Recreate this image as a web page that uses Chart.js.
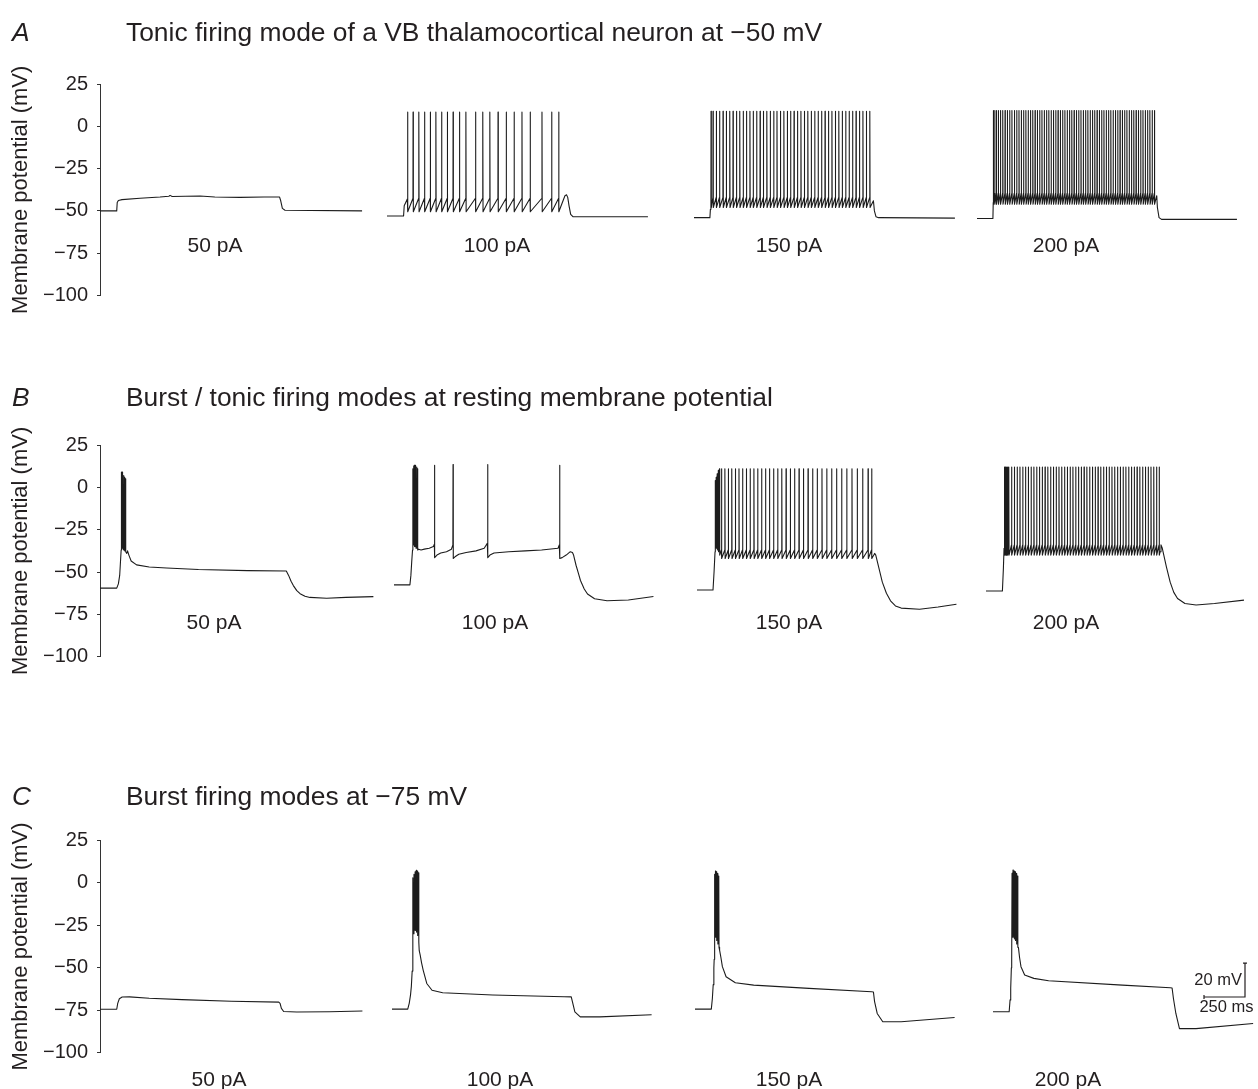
<!DOCTYPE html>
<html><head><meta charset="utf-8">
<script src="https://cdn.jsdelivr.net/npm/chart.js@4.4.1/dist/chart.umd.min.js"></script>
<style>
html,body{margin:0;padding:0;background:#fff;width:1258px;height:1089px;overflow:hidden;font-family:"Liberation Sans",Arial,sans-serif;color:#231f20}
#stage{position:absolute;left:0;top:0;width:1258px;height:1089px}
#stage canvas{position:absolute;left:0}
.lbl{position:absolute;font-size:21px;transform:translate(-50%,-50%);white-space:nowrap;line-height:1}
.ttl{position:absolute;font-size:26.4px;line-height:1;white-space:nowrap;transform:translateY(-50%)}
.let{font-style:italic}
</style></head><body>
<div id="stage"></div>
<script>
// ---------------- data (time in ms from trace start, membrane potential in mV) ----------------
const currents = ['50 pA', '100 pA', '150 pA', '200 pA'];
const panelLetters = ['A', 'B', 'C'];
const panelTitles = [
  'Tonic firing mode of a VB thalamocortical neuron at \u221250 mV',
  'Burst / tonic firing modes at resting membrane potential',
  'Burst firing modes at \u221275 mV'
];
const yTicks = [25, 0, -25, -50, -75, -100];
const yTitle = 'Membrane potential (mV)';
const scaleBarMV = 20, scaleBarMS = 250;

// Panel A
const A1_wave = [[0,-50],[102,-50],[105,-45],[112,-43.8],[134,-43.3],[244,-42.5],[366,-41.8],[420,-41.3],[427,-40.8],[440,-41.5],[520,-41.3],[610,-41.2],[700,-41.8],[854,-42],[1000,-41.8],[1095,-41.8],[1102,-44],[1112,-48.5],[1128,-49.6],[1598,-50]];
const A2_pre = [[0,-53],[101,-53],[105,-47],[124,-43]];
const A2_spikes = [126,159,194,229,264,298,333,368,403,442,481,540,584,627,677,727,775,823,873,945,1004,1047];
const A2_levels = [8.5,-50.5,-42.5];
const A2_post = [[1085,-41],[1095,-40.5],[1102,-42],[1110,-47],[1120,-52],[1135,-53.5],[1591,-53.5]];
const A3_pre = [[0,-54],[97,-54],[100,-49],[103,-44]];
const A3_spikes = [104,116,136,156,177,197,218,238,259,279,300,320,341,361,382,403,423,444,465,486,506,527,548,569,589,610,631,652,673,694,715,736,757,778,799,820,841,862,883,904,925,946,967,988,1009,1030,1051,1072];
const A3_levels = [9,-48,-42];
const A3_post = [[1094,-44],[1100,-50],[1110,-53.5],[1125,-54],[1591,-54.3]];
const A4_pre = [[0,-54.5],[97,-54.5],[99,-45]];
const A4_spikes = [100,108,118,130,143,157,171,185,199,213,228,242,256,270,284,298,312,326,340,354,368,382,396,410,424,438,452,466,480,494,508,522,536,550,564,578,592,606,620,634,648,662,676,690,704,718,732,746,760,774,788,802,816,830,844,858,872,886,900,914,928,942,956,970,984,998,1012,1026,1040,1054,1068,1082];
const A4_levels = [9.5,-46,-39.5];
const A4_post = [[1096,-41],[1100,-48],[1110,-54],[1125,-55],[1585,-55]];

// Panel B
const B1_wave = [[0,-59.5],[102,-59.5],[112,-57],[120,-52],[126,-42],[129,-37],[130,9],[131.5,-36],[134.5,9],[136,-36],[139,8],[140.5,-36.5],[144,7],[145.5,-37],[149,6],[150.5,-37.5],[154,5],[155.5,-38],[158,-38],[163,-39],[168,-37.5],[176,-40],[190,-43.5],[223,-45.8],[300,-47],[406,-47.6],[600,-48.5],[900,-49.2],[1136,-49.4],[1150,-52],[1165,-55.5],[1179,-58],[1200,-61],[1220,-62.8],[1250,-64.3],[1280,-65],[1382,-65.5],[1500,-65],[1667,-64.5]];
const B2_wave = [[0,-57.6],[97,-57.6],[103,-52],[108,-44],[113,-37],[115,11],[116.5,-34],[119.5,12.5],[121,-34],[124,13],[125.5,-35],[128.5,13],[130,-35],[133,12.5],[134.5,-36],[138,12],[139.5,-36],[143,11],[144.5,-37],[150,-36.5],[165,-37],[185,-36.5],[215,-36],[240,-35],[246,-33.5],[247,13],[248.5,-41.5],[262,-40],[285,-38.8],[320,-38],[350,-36.5],[359,-34],[360,13.5],[361.5,-42],[372,-41],[395,-39.5],[440,-38.5],[500,-37.5],[550,-36],[569,-33],[571,13.5],[572.5,-41.5],[585,-40],[610,-38.8],[700,-38],[800,-37.5],[900,-37],[1000,-36],[1008,-34],[1010,13],[1011.5,-42],[1025,-41.5],[1050,-40],[1075,-38],[1088,-38.5],[1095,-40],[1110,-46],[1125,-51],[1137,-55],[1160,-60],[1180,-63],[1223,-65.8],[1299,-67],[1429,-66.5],[1582,-64.5]];
const B3_pre = [[0,-60.6],[97.6,-60.6],[104,-50],[110,-38],[111,4],[112.5,-36],[117,6],[118.5,-36],[123,8],[124.5,-37],[130,10],[131.5,-38],[137,11],[138.5,-40],[149,-37]];
const B3_spikes = [150,170,191,212,234,256,278,301,324,347,370,394,418,442,467,492,517,543,569,595,622,649,677,705,733,762,791,821,851,882,913,945,977,1010,1043,1065];
const B3_levels = [11,-42,-37];
const B3_post = [[1078,-40],[1083,-39],[1090,-40],[1110,-48],[1130,-56],[1155,-62.5],[1180,-67],[1210,-70],[1245,-71.3],[1357,-72],[1470,-70.7],[1582,-69]];
const B4_pre = [[0,-61.2],[100,-61.2],[106,-48],[110,-36]];
const B4_spikes = [112,116,121,126,132,139,156,173,190,207,224,241,258,275,292,309,326,343,360,377,394,411,428,445,462,479,496,513,530,547,564,581,598,615,632,649,666,683,700,717,734,751,768,785,802,819,836,853,870,887,904,921,938,955,972,989,1006,1023,1040,1056];
const B4_levels = [12,-40,-34];
const B4_post = [[1062,-38],[1067,-34],[1075,-36],[1100,-47],[1123,-56],[1145,-62],[1168,-65.6],[1213,-68.6],[1281,-69.5],[1393,-68.6],[1573,-66.6]];

// Panel C
const C1_wave = [[0,-74.5],[102,-74.5],[108,-71],[118,-68.3],[135,-67.3],[180,-67.2],[300,-68],[500,-68.8],[800,-69.8],[1090,-70.3],[1098,-71],[1106,-74],[1120,-75.8],[1200,-76.1],[1400,-76],[1600,-75.5]];
const C2_wave = [[0,-74.4],[96,-74.4],[105,-71],[113,-66],[118,-61],[123,-52],[126,-45],[128,3],[129.5,-30],[134,5],[135.5,-28],[141,6.5],[142.5,-28],[148,7.5],[149.5,-29],[155,7],[156.5,-31],[162,6],[163.5,-35],[166,-40],[172,-42.6],[180,-47],[190,-51.4],[212,-59.3],[244,-63.3],[309,-64.8],[614,-66.1],[1049,-67.1],[1093,-67.2],[1100,-70],[1115,-76],[1148,-79],[1267,-79],[1583,-77.7]];
const C3_wave = [[0,-74.4],[99.5,-74.4],[106,-68],[111,-60],[115,-50],[117,-45],[119,5],[120.5,-32],[125,7],[126.5,-32],[131,6.5],[132.5,-34],[138,5.5],[139.5,-36],[145,4],[146.5,-38],[150,-39.6],[158,-44],[167,-49.4],[189.5,-55.3],[246,-58.9],[358,-60.3],[695,-62.2],[1077,-64.2],[1088,-64.3],[1095,-70],[1111,-77],[1145,-81.9],[1257,-81.9],[1583,-79.4]];
const C4_wave = [[0,-76],[98.6,-76],[104,-69],[108,-62],[112,-50],[114,-45],[116,5.6],[117.5,-32],[122,7.6],[123.5,-32],[129,7],[130.5,-33],[136,6.5],[137.5,-34],[143,5.5],[144.5,-36],[150,4],[151.5,-38],[155,-38],[162,-44],[170.6,-49.4],[193,-54.3],[249,-56.3],[339,-57.7],[789,-60.3],[1081,-61.8],[1092,-62],[1100,-68],[1115,-77],[1137,-85.9],[1238,-85.9],[1586,-82.9]];

const panelsData = [
  [{wave:A1_wave},{pre:A2_pre,spikes:A2_spikes,levels:A2_levels,post:A2_post},{pre:A3_pre,spikes:A3_spikes,levels:A3_levels,post:A3_post},{pre:A4_pre,spikes:A4_spikes,levels:A4_levels,post:A4_post}],
  [{wave:B1_wave},{wave:B2_wave},{pre:B3_pre,spikes:B3_spikes,levels:B3_levels,post:B3_post},{pre:B4_pre,spikes:B4_spikes,levels:B4_levels,post:B4_post}],
  [{wave:C1_wave},{wave:C2_wave},{wave:C3_wave},{wave:C4_wave}]
];

// ---------------- layout (page pixels) ----------------
const PX_PER_MS = 41 / 250;    // page px per ms
const AXIS_X = 100;
const PAGE_W = 1258;
const LAYOUT = [
  {top:0,   h:330, areaTop:84.3,  areaBottom:295.3,  starts:[100,387,694,977], labelY:244,  labelX:[215,497,789,1066], titleY:32},
  {top:360, h:330, areaTop:445,   areaBottom:656.7,  starts:[100,394,697,986], labelY:621,  labelX:[214,495,789,1066], titleY:397},
  {top:755, h:334, areaTop:840.5, areaBottom:1052.5, starts:[100,392,695,993], labelY:1078, labelX:[219,500,789,1068], titleY:796}
];
const SCALEBAR_PAGE = {x:1245, y:997};
const INK = '#231f20';

Chart.defaults.font.family = '"Liberation Sans", Arial, sans-serif';
Chart.defaults.color = INK;

function buildTrace(tr) {
  const pts = [];
  if (tr.wave) tr.wave.forEach(p => pts.push(p));
  if (tr.pre) tr.pre.forEach(p => pts.push(p));
  if (tr.spikes) {
    const [peak, trough, thresh] = tr.levels;
    tr.spikes.forEach(t => { pts.push([t - 0.6, thresh]); pts.push([t, peak]); pts.push([t + 1.6, trough]); });
  }
  if (tr.post) tr.post.forEach(p => pts.push(p));
  return pts;
}
const fmt = v => (v < 0 ? '\u2212' + Math.abs(v) : String(v));

const stage = document.getElementById('stage');
const xMax = (PAGE_W - AXIS_X) / PX_PER_MS;

LAYOUT.forEach((L, pi) => {
  const cv = document.createElement('canvas');
  cv.width = PAGE_W; cv.height = L.h;
  cv.style.top = L.top + 'px';
  cv.style.width = PAGE_W + 'px'; cv.style.height = L.h + 'px';
  stage.appendChild(cv);

  const datasets = panelsData[pi].map((tr, ti) => {
    const off = (L.starts[ti] - AXIS_X) / PX_PER_MS;
    return {
      label: currents[ti],
      data: buildTrace(tr).map(p => ({x: p[0] + off, y: p[1]})),
      borderColor: '#1c1c1c', borderWidth: 1.1, pointRadius: 0, tension: 0,
      borderJoinStyle: 'round', fill: false
    };
  });

  const plugins = [];
  if (pi === 2) {
    plugins.push({
      id: 'scalebar',
      afterDatasetsDraw(chart) {
        const xs = chart.scales.x, ys = chart.scales.y, ctx = chart.ctx;
        const tEnd = (SCALEBAR_PAGE.x - AXIS_X) / PX_PER_MS;
        const vBase = ys.getValueForPixel(SCALEBAR_PAGE.y - L.top);
        const x1 = xs.getPixelForValue(tEnd), x0 = xs.getPixelForValue(tEnd - scaleBarMS);
        const y0 = ys.getPixelForValue(vBase), y1 = ys.getPixelForValue(vBase + scaleBarMV);
        ctx.save();
        ctx.strokeStyle = INK; ctx.lineWidth = 1.2;
        ctx.beginPath();
        ctx.moveTo(x0, y0); ctx.lineTo(x1, y0); ctx.lineTo(x1, y1);
        ctx.moveTo(x0, y0 - 2); ctx.lineTo(x0, y0 + 2);
        ctx.moveTo(x1 - 2, y1); ctx.lineTo(x1 + 2, y1);
        ctx.stroke();
        ctx.fillStyle = INK;
        ctx.font = '16.5px "Liberation Sans", Arial, sans-serif';
        ctx.textAlign = 'right'; ctx.textBaseline = 'middle';
        ctx.fillText(scaleBarMV + ' mV', x1 - 3, (y0 + y1) / 2);
        ctx.textAlign = 'center'; ctx.textBaseline = 'top';
        ctx.fillText(scaleBarMS + ' ms', (x0 + x1) / 2 + 2, y0 + 2);
        ctx.restore();
      }
    });
  }

  new Chart(cv, {
    type: 'line',
    data: {datasets},
    plugins,
    options: {
      responsive: false, animation: false, events: [],
      layout: {padding: {top: L.areaTop - L.top, bottom: L.top + L.h - L.areaBottom, left: 0, right: 0}},
      plugins: {legend: {display: false}, tooltip: {enabled: false}},
      scales: {
        x: {type: 'linear', display: false, min: 0, max: xMax},
        y: {
          type: 'linear', min: yTicks[yTicks.length - 1], max: yTicks[0],
          afterFit(scale) { scale.width = AXIS_X; },
          afterBuildTicks(scale) { scale.ticks = yTicks.map(v => ({value: v})); },
          ticks: {color: INK, font: {size: 20}, padding: 9, callback: fmt},
          grid: {drawOnChartArea: false, drawTicks: true, tickLength: 3, color: '#333', tickColor: '#333', lineWidth: 1},
          border: {display: true, color: '#333', width: 1},
          title: {display: true, text: yTitle, color: INK, font: {size: 22}, padding: {top: 8, bottom: 0}}
        }
      }
    }
  });

  currents.forEach((c, i) => {
    const d = document.createElement('div');
    d.className = 'lbl'; d.textContent = c;
    d.style.left = L.labelX[i] + 'px'; d.style.top = L.labelY + 'px';
    stage.appendChild(d);
  });

  const a = document.createElement('div');
  a.className = 'ttl let'; a.textContent = panelLetters[pi];
  a.style.left = '12px'; a.style.top = L.titleY + 'px';
  document.body.appendChild(a);
  const t = document.createElement('div');
  t.className = 'ttl'; t.textContent = panelTitles[pi];
  t.style.left = '126px'; t.style.top = L.titleY + 'px';
  document.body.appendChild(t);
});
</script>
</body></html>
